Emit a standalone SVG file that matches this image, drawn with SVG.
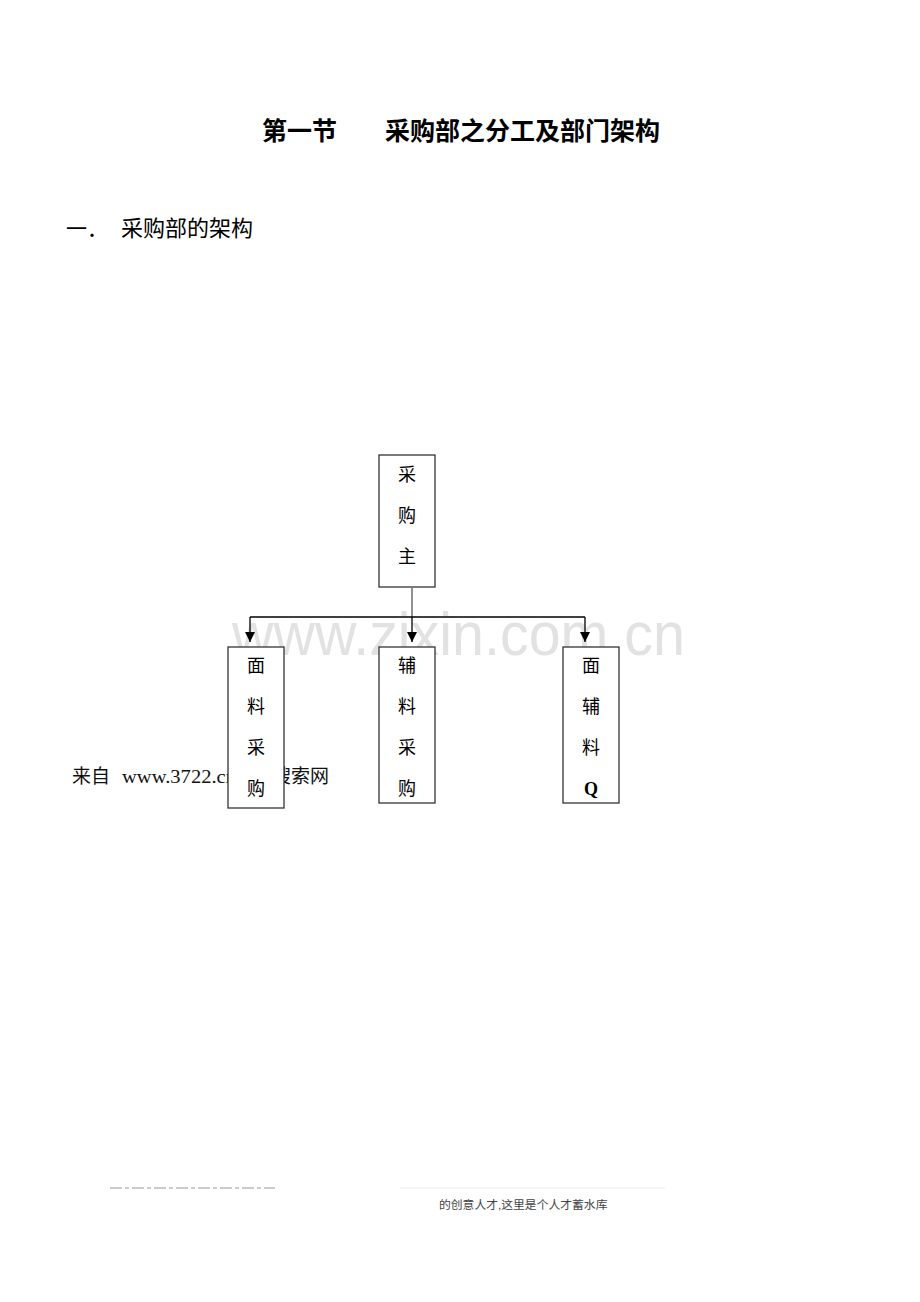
<svg xmlns="http://www.w3.org/2000/svg" width="920" height="1302" viewBox="0 0 920 1302">
<defs>
<style>
.cjk{font-family:"Liberation Sans","Noto Sans CJK SC",sans-serif;fill:#000}
.box{fill:#fff;stroke:#333;stroke-width:1.3}
.lbl{font-family:"Liberation Sans","Noto Sans CJK SC",sans-serif;font-size:18px;text-anchor:middle;fill:#000}
.q{font-family:"Liberation Serif",serif;font-weight:bold}
.conn{stroke:#000;stroke-width:1.3;fill:none}
</style>
<marker id="arr" viewBox="0 0 10 10" refX="10" refY="5" markerWidth="10" markerHeight="10" markerUnits="userSpaceOnUse" orient="auto">
<path d="M0,0 L10,5 L0,10 z" fill="#000"/>
</marker>
</defs>
<rect width="920" height="1302" fill="#fff"/>
<text class="cjk" x="262" y="140" font-size="25" font-weight="bold">第一节</text>
<text class="cjk" x="385" y="140" font-size="25" font-weight="bold">采购部之分工及部门架构</text>
<text class="cjk" x="66" y="236" font-size="21">一．</text>
<text class="cjk" x="121" y="236" font-size="22">采购部的架构</text>
<text x="232" y="655" font-family="Liberation Sans, Arial, sans-serif" font-size="62" fill="#e2e2e2" textLength="453" lengthAdjust="spacingAndGlyphs">www.zixin.com.cn</text>
<text x="72" y="783" font-family="'Liberation Sans','Noto Sans CJK SC',sans-serif" font-size="19" fill="#111">来自</text>
<text x="122" y="783" font-family="'Liberation Serif',serif" font-size="19" fill="#111" textLength="114" lengthAdjust="spacingAndGlyphs">www.3722.cn</text>
<text x="272" y="783" font-family="'Liberation Sans','Noto Sans CJK SC',sans-serif" font-size="19" fill="#111">搜索网</text>
<g id="connectors">
<line class="conn" x1="412" y1="588" x2="412" y2="617" style="stroke:#555"/>
<line class="conn" x1="250" y1="617" x2="585" y2="617"/>
<line class="conn" x1="250" y1="617" x2="250" y2="642" marker-end="url(#arr)"/>
<line class="conn" x1="412" y1="617" x2="412" y2="642" marker-end="url(#arr)"/>
<line class="conn" x1="585" y1="617" x2="585" y2="642" marker-end="url(#arr)"/>
</g>
<g id="n-main">
<rect class="box" x="379" y="455" width="56" height="132"/>
<text class="lbl" x="407" y="481">采</text>
<text class="lbl" x="407" y="522">购</text>
<text class="lbl" x="407" y="563">主</text>
</g>
<g id="n-fabric">
<rect class="box" x="228" y="647" width="56" height="161"/>
<text class="lbl" x="256" y="672">面</text>
<text class="lbl" x="256" y="713">料</text>
<text class="lbl" x="256" y="754">采</text>
<text class="lbl" x="256" y="795">购</text>
</g>
<g id="n-accessory">
<rect class="box" x="379" y="647" width="56" height="156"/>
<text class="lbl" x="407" y="672">辅</text>
<text class="lbl" x="407" y="713">料</text>
<text class="lbl" x="407" y="754">采</text>
<text class="lbl" x="407" y="795">购</text>
</g>
<g id="n-qc">
<rect class="box" x="563" y="647" width="56" height="156"/>
<text class="lbl" x="591" y="672">面</text>
<text class="lbl" x="591" y="713">辅</text>
<text class="lbl" x="591" y="754">料</text>
<text class="lbl q" x="591" y="795">Q</text>
</g>
<g stroke="#bbb" stroke-width="1.5">
<line x1="110" y1="1188" x2="275" y2="1188" stroke-dasharray="12,3,4,3"/>
<line x1="400" y1="1188" x2="665" y2="1188" stroke="#f2f2f2"/>
</g>
<text x="439" y="1209" font-family="'Liberation Sans','Noto Sans CJK SC',sans-serif" font-size="11.8" fill="#444">的创意人才,这里是个人才蓄水库</text>
</svg>
